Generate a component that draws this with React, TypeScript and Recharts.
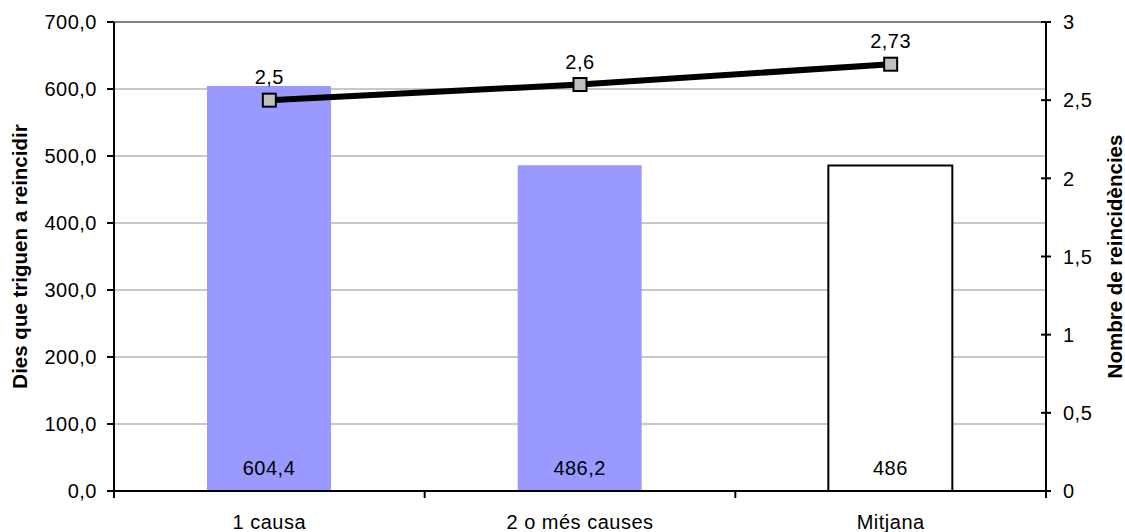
import React from "react";
import {
  ComposedChart,
  Bar,
  Line,
  Cell,
  XAxis,
  YAxis,
  CartesianGrid,
  ReferenceLine,
  LabelList,
} from "recharts";

const categories = ["1 causa", "2 o més causes", "Mitjana"];
const diesValues = [604.4, 486.2, 486];
const reincValues = [2.5, 2.6, 2.73];
const barColors = ["#9999FF", "#9999FF", "#FFFFFF"];
const leftTicks = [0, 100, 200, 300, 400, 500, 600, 700];
const rightTicks = [0, 0.5, 1, 1.5, 2, 2.5, 3];

const data = categories.map((name, i) => ({
  name,
  dies: diesValues[i],
  reinc: reincValues[i],
}));

const FONT = "'Liberation Sans', Arial, sans-serif";
const FS = 20;
const LS = 0.5;
const comma = (v: number) => String(v).replace(".", ",");

// category label plus Excel-style tick marks on the band edges
const CategoryTick = (props: any) => {
  const { x, y, payload, width, index } = props;
  const half = width / categories.length / 2;
  const axisY = y - 24;
  return (
    <g>
      <line x1={x - half} x2={x - half} y1={axisY} y2={axisY + 7} stroke="#000" strokeWidth={2} />
      {index === categories.length - 1 && (
        <line x1={x + half} x2={x + half} y1={axisY} y2={axisY + 7} stroke="#000" strokeWidth={2} />
      )}
      <text x={x} y={y} dy="0.71em" textAnchor="middle" fontFamily={FONT} fontSize={FS} letterSpacing={LS} fill="#000">
        {payload.value}
      </text>
    </g>
  );
};

const RightTick = (props: any) => {
  const { x, y, payload } = props;
  const axisX = x - 17;
  return (
    <g>
      <line x1={axisX - 5} x2={axisX + 5} y1={y} y2={y} stroke="#000" strokeWidth={2} />
      <text x={x} y={y} dy="0.36em" fontFamily={FONT} fontSize={FS} letterSpacing={LS} fill="#000">
        {comma(payload.value)}
      </text>
    </g>
  );
};

const SquareDot = (props: any) => {
  const { cx, cy, index } = props;
  return (
    <rect
      key={`dot-${index}`}
      x={cx - 6.5}
      y={cy - 6.5}
      width={13}
      height={13}
      fill="#C0C0C0"
      stroke="#000"
      strokeWidth={2}
    />
  );
};

const AxisTitle = ({ viewBox, title, posX }: any) => {
  const cy = viewBox.y + viewBox.height / 2;
  return (
    <text
      x={posX}
      y={cy}
      transform={`rotate(-90, ${posX}, ${cy})`}
      textAnchor="middle"
      dominantBaseline="central"
      fontFamily={FONT}
      fontSize={20.5}
      fontWeight="bold"
      fill="#000"
    >
      {title}
    </text>
  );
};

export default function App() {
  return (
    <div style={{ position: "absolute", left: 0, top: 0, background: "#fff" }}>
      <ComposedChart
        width={1125}
        height={532}
        data={data}
        margin={{ top: 22, right: 0, bottom: 0, left: 0 }}
      >
        <XAxis
          xAxisId="cat"
          dataKey="name"
          height={41}
          tickLine={false}
          tickSize={6}
          tickMargin={18}
          axisLine={{ stroke: "#000", strokeWidth: 2 }}
          tick={<CategoryTick />}
        />
        <YAxis
          yAxisId="left"
          domain={[0, 700]}
          ticks={leftTicks}
          width={114}
          tickSize={7}
          tickMargin={10}
          tickFormatter={(v: number) => v.toFixed(1).replace(".", ",")}
          axisLine={{ stroke: "#000", strokeWidth: 2 }}
          tickLine={{ stroke: "#000", strokeWidth: 2 }}
          tick={{ fill: "#000", fontSize: FS, fontFamily: FONT, letterSpacing: LS }}
          label={<AxisTitle title="Dies que triguen a reincidir" posX={19} />}
        />
        <YAxis
          yAxisId="right"
          orientation="right"
          domain={[0, 3]}
          ticks={rightTicks}
          width={79}
          tickSize={5}
          tickMargin={12}
          tickLine={false}
          axisLine={{ stroke: "#000", strokeWidth: 2 }}
          tick={<RightTick />}
          label={<AxisTitle title="Nombre de reincidències" posX={1114} />}
        />
        <CartesianGrid
          xAxisId="cat"
          yAxisId="left"
          vertical={false}
          stroke="#C8C8C8"
          strokeWidth={2}
        />
        <ReferenceLine xAxisId="cat" yAxisId="left" y={700} stroke="#808080" strokeWidth={2} />
        <Bar
          xAxisId="cat"
          yAxisId="left"
          dataKey="dies"
          barSize={124}
          isAnimationActive={false}
        >
          {data.map((d, i) => (
            <Cell
              key={d.name}
              fill={barColors[i]}
              stroke={barColors[i] === "#FFFFFF" ? "#000" : "none"}
              strokeWidth={2}
            />
          ))}
          <LabelList
            dataKey="dies"
            position="insideBottom"
            offset={16}
            formatter={(v: any) => comma(v)}
            fill="#000"
            fontSize={FS}
            fontFamily={FONT}
            letterSpacing={LS}
          />
        </Bar>
        <Line
          xAxisId="cat"
          yAxisId="right"
          type="linear"
          dataKey="reinc"
          stroke="#000"
          strokeWidth={6}
          dot={<SquareDot />}
          activeDot={false}
          isAnimationActive={false}
        >
          <LabelList
            dataKey="reinc"
            position="top"
            offset={16}
            formatter={(v: any) => comma(v)}
            fill="#000"
            fontSize={FS}
            fontFamily={FONT}
            letterSpacing={LS}
          />
        </Line>
      </ComposedChart>
    </div>
  );
}
